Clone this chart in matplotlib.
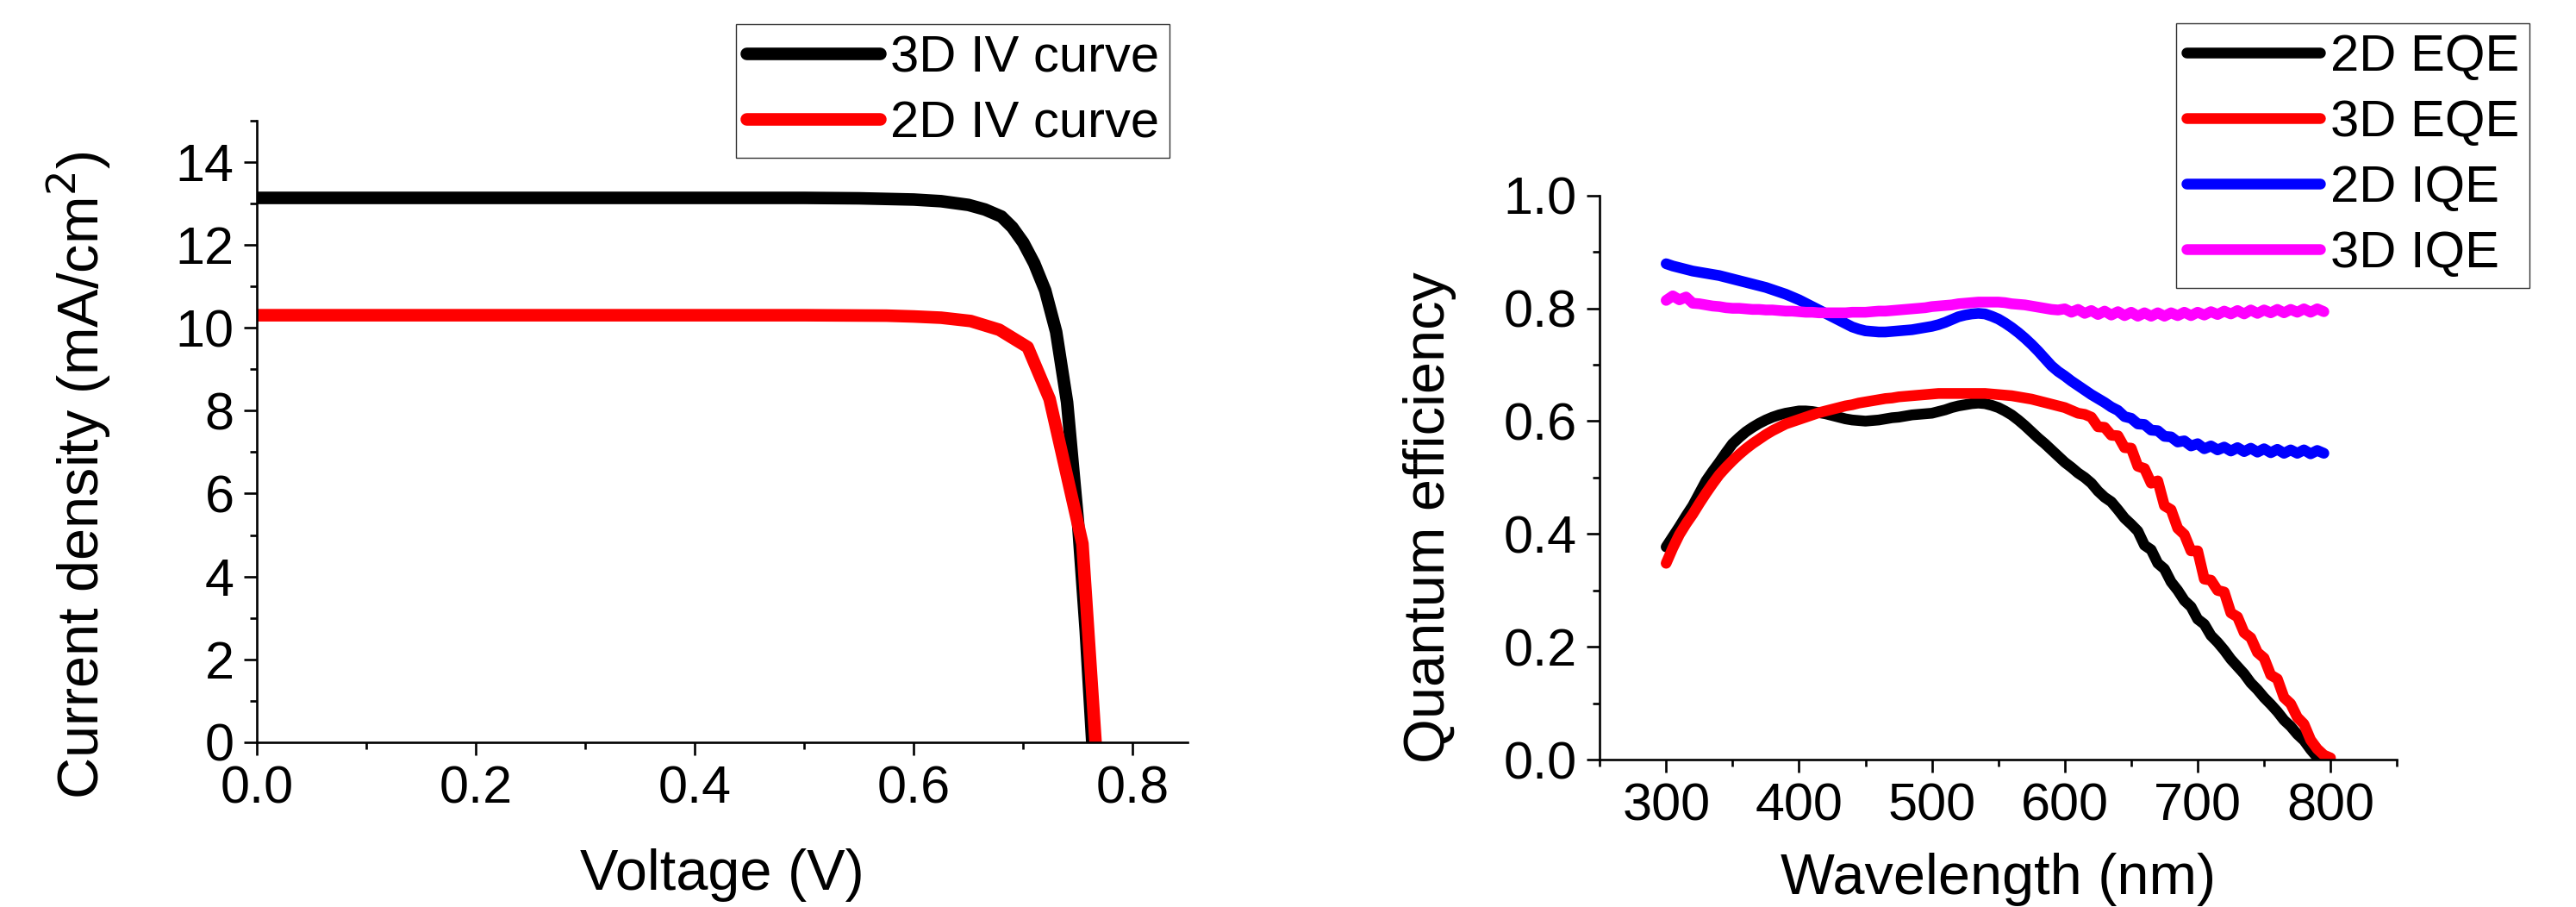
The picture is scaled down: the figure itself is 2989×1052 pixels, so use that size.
import matplotlib
matplotlib.use("Agg")
import matplotlib.pyplot as plt
from matplotlib.ticker import MultipleLocator, FormatStrFormatter

plt.rcParams['font.family'] = ['Liberation Sans', 'DejaVu Sans']

# ---- IV curves (left) ----
v_3d = [0.0, 0.1, 0.2, 0.3, 0.4, 0.5, 0.55, 0.6, 0.625, 0.65, 0.665, 0.68, 0.69,
        0.70, 0.71, 0.72, 0.73, 0.74, 0.75, 0.757, 0.763]
j_3d = [13.13, 13.13, 13.13, 13.13, 13.13, 13.13, 13.12, 13.09, 13.05, 12.96, 12.85,
        12.68, 12.42, 12.05, 11.55, 10.9, 9.9, 8.2, 5.3, 2.7, 0.0]
v_2d = [0.0, 0.1, 0.2, 0.3, 0.4, 0.5, 0.575, 0.6, 0.625, 0.652, 0.678, 0.704, 0.724,
        0.754, 0.766]
j_2d = [10.30, 10.30, 10.30, 10.30, 10.30, 10.30, 10.29, 10.27, 10.24, 10.16, 9.95,
        9.53, 8.28, 4.79, 0.0]

# ---- quantum efficiency (right), 5 nm steps ----
wl = list(range(300, 805, 5))
eqe_2d = [0.377, 0.395, 0.413, 0.432, 0.450, 0.472, 0.494, 0.511, 0.527, 0.544,
          0.560, 0.571, 0.581, 0.589, 0.596, 0.602, 0.607, 0.611, 0.614, 0.616,
          0.618, 0.618, 0.617, 0.615, 0.613, 0.610, 0.607, 0.604, 0.602, 0.601,
          0.600, 0.601, 0.602, 0.604, 0.606, 0.607, 0.609, 0.611, 0.612, 0.613,
          0.614, 0.617, 0.620, 0.624, 0.627, 0.629, 0.631, 0.632, 0.631, 0.628,
          0.624, 0.618, 0.611, 0.602, 0.592, 0.581, 0.570, 0.560, 0.549, 0.538,
          0.527, 0.518, 0.508, 0.500, 0.490, 0.476, 0.465, 0.457, 0.443, 0.428,
          0.417, 0.405, 0.380, 0.372, 0.348, 0.338, 0.315, 0.300, 0.282, 0.271,
          0.249, 0.240, 0.220, 0.208, 0.194, 0.178, 0.165, 0.152, 0.136, 0.124,
          0.110, 0.098, 0.085, 0.070, 0.059, 0.045, 0.034, 0.018, 0.004]
eqe_3d = [0.348, 0.375, 0.399, 0.418, 0.435, 0.454, 0.472, 0.489, 0.505, 0.518,
          0.530, 0.541, 0.551, 0.560, 0.568, 0.576, 0.583, 0.589, 0.595, 0.599,
          0.603, 0.607, 0.611, 0.615, 0.618, 0.621, 0.624, 0.627, 0.629, 0.632,
          0.634, 0.636, 0.638, 0.640, 0.641, 0.643, 0.644, 0.645, 0.646, 0.647,
          0.648, 0.649, 0.649, 0.649, 0.649, 0.649, 0.649, 0.649, 0.649, 0.648,
          0.647, 0.646, 0.645, 0.643, 0.641, 0.639, 0.636, 0.633, 0.630, 0.627,
          0.624, 0.619, 0.614, 0.612, 0.607, 0.590, 0.589, 0.575, 0.574, 0.553,
          0.552, 0.520, 0.516, 0.490, 0.494, 0.450, 0.443, 0.410, 0.399, 0.370,
          0.370, 0.320, 0.318, 0.300, 0.297, 0.260, 0.253, 0.225, 0.216, 0.190,
          0.180, 0.150, 0.143, 0.110, 0.099, 0.075, 0.063, 0.035, 0.019, 0.008,
          0.003]
iqe_2d = [0.879, 0.875, 0.872, 0.869, 0.866, 0.864, 0.862, 0.860, 0.858, 0.855,
          0.852, 0.849, 0.846, 0.843, 0.840, 0.837, 0.833, 0.829, 0.825, 0.820,
          0.815, 0.809, 0.803, 0.797, 0.791, 0.785, 0.779, 0.773, 0.767, 0.763,
          0.760, 0.759, 0.758, 0.758, 0.759, 0.760, 0.761, 0.762, 0.764, 0.766,
          0.768, 0.771, 0.775, 0.780, 0.785, 0.788, 0.790, 0.791, 0.790, 0.786,
          0.781, 0.774, 0.766, 0.757, 0.747, 0.736, 0.724, 0.711, 0.698, 0.688,
          0.680, 0.671, 0.663, 0.655, 0.647, 0.640, 0.633, 0.625, 0.619, 0.608,
          0.605, 0.595, 0.594, 0.584, 0.583, 0.573, 0.572, 0.563, 0.565, 0.556,
          0.560, 0.551, 0.556, 0.549, 0.554, 0.547, 0.553, 0.546, 0.552, 0.545,
          0.551, 0.544, 0.550, 0.543, 0.549, 0.543, 0.549, 0.542, 0.548, 0.543]
iqe_3d = [0.814, 0.822, 0.815, 0.820, 0.809, 0.808, 0.806, 0.804, 0.803, 0.801,
          0.800, 0.800, 0.799, 0.798, 0.798, 0.797, 0.797, 0.796, 0.795, 0.795,
          0.794, 0.793, 0.793, 0.792, 0.792, 0.792, 0.792, 0.792, 0.793, 0.793,
          0.793, 0.794, 0.795, 0.795, 0.796, 0.797, 0.798, 0.799, 0.800, 0.801,
          0.803, 0.804, 0.805, 0.806, 0.808, 0.809, 0.810, 0.811, 0.811, 0.811,
          0.811, 0.810, 0.808, 0.807, 0.806, 0.804, 0.802, 0.800, 0.798, 0.797,
          0.799, 0.793, 0.798, 0.791, 0.796, 0.789, 0.795, 0.788, 0.794, 0.787,
          0.793, 0.786, 0.792, 0.786, 0.792, 0.786, 0.792, 0.787, 0.793, 0.787,
          0.793, 0.788, 0.794, 0.789, 0.795, 0.790, 0.796, 0.790, 0.797, 0.791,
          0.797, 0.792, 0.798, 0.792, 0.798, 0.793, 0.799, 0.793, 0.799, 0.794]

fig = plt.figure(figsize=(29.89, 10.52), dpi=100)
ax1 = fig.add_axes([0.0997, 0.1816, 0.3613, 0.6857])
ax2 = fig.add_axes([0.621, 0.1625, 0.3095, 0.622])


def style_axes(ax):
    for s in ['top', 'right']:
        ax.spines[s].set_visible(False)
    for s in ['left', 'bottom']:
        ax.spines[s].set_linewidth(1.9)
    ax.tick_params(which='major', direction='out', length=11, width=1.9,
                   labelsize=44, pad=8)
    ax.tick_params(which='minor', direction='out', length=6, width=1.9)


# left panel
ax1.plot(v_3d, j_3d, color='black', lw=10.5, solid_capstyle='round',
         solid_joinstyle='round', label='3D IV curve')
ax1.plot(v_2d, j_2d, color='#ff0000', lw=10.5, solid_capstyle='round',
         solid_joinstyle='round', label='2D IV curve')
ax1.set_xlim(0, 0.85)
ax1.set_ylim(0, 15)
ax1.xaxis.set_major_locator(MultipleLocator(0.2))
ax1.xaxis.set_minor_locator(MultipleLocator(0.1))
ax1.xaxis.set_major_formatter(FormatStrFormatter('%.1f'))
ax1.yaxis.set_major_locator(MultipleLocator(2))
ax1.yaxis.set_minor_locator(MultipleLocator(1))
style_axes(ax1)
ax1.set_xlabel('Voltage (V)', fontsize=48)
ax1.set_ylabel('Current density (mA/cm$^2$)', fontsize=48)
ax1.xaxis.set_label_coords(0.5, -0.17)
ax1.yaxis.set_label_coords(-0.155, 0.43)
ax1.legend(loc='upper right', bbox_to_anchor=(0.454, 0.973),
           bbox_transform=fig.transFigure, fontsize=43, frameon=True,
           fancybox=False, edgecolor='#333333', framealpha=1,
           handlelength=2.6, handletextpad=0.2, labelspacing=0.35,
           borderpad=0.2, borderaxespad=0)

# right panel
ax2.plot(wl[:len(eqe_2d)], eqe_2d, color='black', lw=9, solid_capstyle='round',
         solid_joinstyle='round', label='2D EQE')
ax2.plot(wl[:len(eqe_3d)], eqe_3d, color='#ff0000', lw=9, solid_capstyle='round',
         solid_joinstyle='round', label='3D EQE')
ax2.plot(wl[:len(iqe_2d)], iqe_2d, color='#0000ff', lw=9, solid_capstyle='round',
         solid_joinstyle='round', label='2D IQE')
ax2.plot(wl[:len(iqe_3d)], iqe_3d, color='#ff00ff', lw=9, solid_capstyle='round',
         solid_joinstyle='round', label='3D IQE')
ax2.set_xlim(250, 850)
ax2.set_ylim(0, 1.0)
ax2.xaxis.set_major_locator(MultipleLocator(100))
ax2.xaxis.set_minor_locator(MultipleLocator(50))
ax2.yaxis.set_major_locator(MultipleLocator(0.2))
ax2.yaxis.set_minor_locator(MultipleLocator(0.1))
ax2.yaxis.set_major_formatter(FormatStrFormatter('%.1f'))
ax2.set_xticks([300, 400, 500, 600, 700, 800])
style_axes(ax2)
ax2.set_xlabel('Wavelength (nm)', fontsize=48)
ax2.set_ylabel('Quantum efficiency', fontsize=48)
ax2.xaxis.set_label_coords(0.5, -0.165)
ax2.yaxis.set_label_coords(-0.18, 0.43)
ax2.legend(loc='upper right', bbox_to_anchor=(0.982, 0.974),
           bbox_transform=fig.transFigure, fontsize=43, frameon=True,
           fancybox=False, edgecolor='#333333', framealpha=1,
           handlelength=2.6, handletextpad=0.2, labelspacing=0.35,
           borderpad=0.2, borderaxespad=0)

fig.savefig('out.png', dpi=100)
